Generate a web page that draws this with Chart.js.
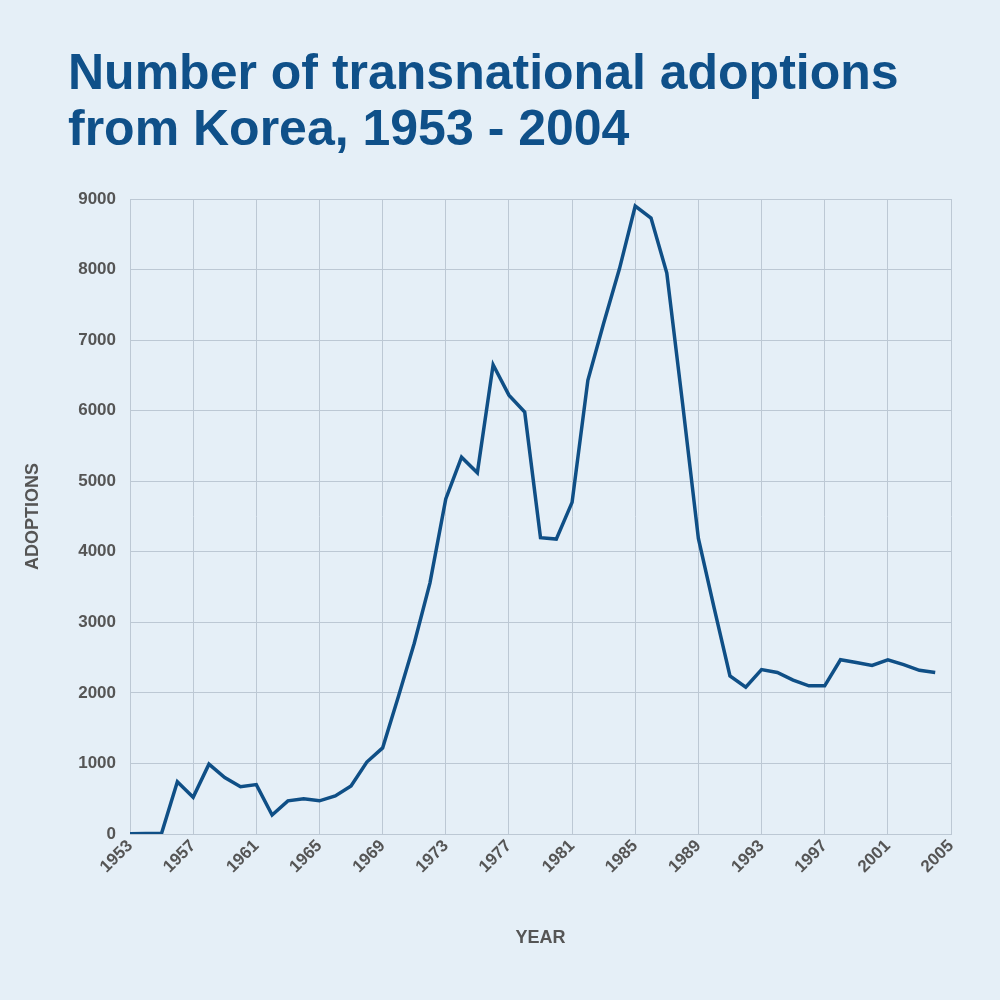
<!DOCTYPE html>
<html><head><meta charset="utf-8">
<script src="https://cdn.jsdelivr.net/npm/chart.js@4"></script>
<style>
body{margin:0;background:#e5eff7;width:1000px;height:1000px;overflow:hidden;font-family:"Liberation Sans",Arial,sans-serif}
h1{position:absolute;left:68px;top:44px;margin:0;font-size:50px;line-height:56px;color:#0f5089;font-weight:bold}
#wrap{position:absolute;left:0;top:170px;width:1000px;height:830px}
</style></head><body>
<h1>Number of transnational adoptions<br>from Korea, 1953 - 2004</h1>
<div id="wrap"><canvas id="c"></canvas></div>
<script>
// data
const years = [1953,1954,1955,1956,1957,1958,1959,1960,1961,1962,1963,1964,1965,1966,1967,1968,1969,1970,1971,1972,1973,1974,1975,1976,1977,1978,1979,1980,1981,1982,1983,1984,1985,1986,1987,1988,1989,1990,1991,1992,1993,1994,1995,1996,1997,1998,1999,2000,2001,2002,2003,2004];
const adoptions = [4,8,10,740,520,990,800,670,700,270,470,500,470,540,680,1020,1220,1950,2700,3560,4750,5340,5120,6650,6220,5980,4200,4180,4700,6430,7240,8010,8900,8730,7950,6100,4190,3200,2240,2080,2330,2290,2180,2100,2100,2470,2430,2390,2470,2400,2320,2290];

const tickFont = {family:'"Liberation Sans", Arial, sans-serif', size:17, weight:'bold'};
new Chart(document.getElementById('c'), {
  type:'line',
  data:{datasets:[{data:years.map((y,i)=>({x:y,y:adoptions[i]})), borderColor:'#0f4f86', borderWidth:3.5, pointRadius:0, tension:0}]},
  options:{
    responsive:true, maintainAspectRatio:false, animation:false,
    layout:{padding:{left:18,right:49,top:29,bottom:47}},
    plugins:{legend:{display:false}, tooltip:{enabled:false}},
    scales:{
      x:{type:'linear', min:1953, max:2005,
        afterFit:s=>{s.height=119},
        ticks:{stepSize:4, color:'#555', font:tickFont, maxRotation:45, minRotation:45, padding:2, callback:v=>String(v)},
        grid:{color:'#bcc8d4', drawTicks:false}, border:{color:'#bcc8d4'},
        title:{display:true, text:'YEAR', color:'#555', font:{...tickFont, size:18}, padding:{top:20}}},
      y:{min:0, max:9000,
        afterFit:s=>{s.width=112},
        ticks:{stepSize:1000, color:'#555', font:tickFont, padding:14, callback:v=>String(v)},
        grid:{color:'#bcc8d4', drawTicks:false}, border:{color:'#bcc8d4'},
        title:{display:true, text:'ADOPTIONS', color:'#555', font:{...tickFont, size:18}}}
    }
  }
});
</script>
</body></html>
